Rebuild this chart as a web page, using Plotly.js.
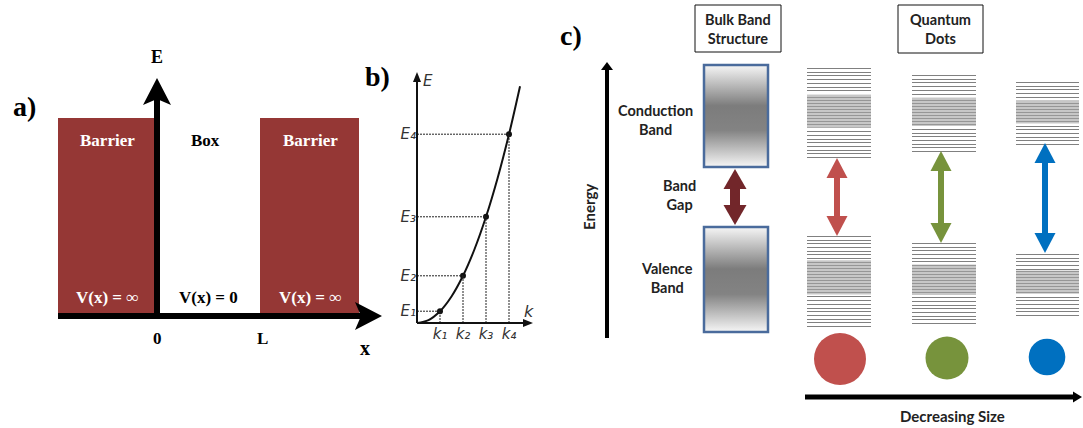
<!DOCTYPE html>
<html>
<head>
<meta charset="utf-8">
<script src="https://cdn.plot.ly/plotly-3.0.1.min.js"></script>
<style>
  html, body { margin: 0; padding: 0; background: #fff; }
  #chart { width: 1083px; height: 428px; }
</style>
</head>
<body>
<div id="chart"></div>
<script>
// ---- Panel a: particle in a one-dimensional box ----
const regionLabels = ['Barrier', 'Box', 'Barrier'];
const potentialLabels = ['V(x) = \u221E', 'V(x) = 0', 'V(x) = \u221E'];
const positionTicks = ['0', 'L'];

// ---- Panel b: free-particle dispersion E(k) and the allowed states ----
const curveK = [0, 0.5, 1, 1.5, 2, 2.5, 3, 3.5, 4, 4.48];
const curveE = [0, 0.25, 1, 2.25, 4, 6.25, 9, 12.25, 16, 20.07];
const stateK = [1, 2, 3, 4];
const stateE = [1, 4, 9, 16];
const stateIndex = ['\u2081', '\u2082', '\u2083', '\u2084'];

// ---- Panel c: bulk bands vs. quantum dot levels ----
const bulkLabels = ['Conduction<br>Band', 'Band<br>Gap', 'Valence<br>Band'];
const headerLabels = ['Bulk Band<br>Structure', 'Quantum<br>Dots'];
const axisLabels = ['Energy', 'Decreasing Size'];

const W = 1083, H = 428;
const SERIF = 'Liberation Serif, Times New Roman, serif';
const SANS = 'DejaVu Sans, Liberation Sans, Arial, sans-serif';
const HUMAN = 'Lato, Open Sans, sans-serif';

const shapes = [];
const annotations = [];
const traces = [];

function label(x, y, text, size, family, color, weight, style, extra) {
  annotations.push(Object.assign({
    x: x, y: y, xref: 'x', yref: 'y', text: text, showarrow: false,
    xanchor: 'center', yanchor: 'middle',
    font: { size: size, family: family, color: color, weight: weight || 'normal', style: style || 'normal' }
  }, extra || {}));
}

// Arrow drawn as a shaft line plus filled head path(s), in page-pixel data units.
function arrow(x0, y0, x1, y1, width, color, headLen, headWid, notch, both) {
  const len = Math.hypot(x1 - x0, y1 - y0);
  const ux = (x1 - x0) / len, uy = (y1 - y0) / len;
  const nx = -uy, ny = ux;
  function head(tx, ty, dx, dy) {
    const bx = tx - dx * headLen, by = ty - dy * headLen;
    const c1x = bx + nx * headWid / 2, c1y = by + ny * headWid / 2;
    const c2x = bx - nx * headWid / 2, c2y = by - ny * headWid / 2;
    const mx = bx + dx * notch, my = by + dy * notch;
    shapes.push({
      type: 'path', xref: 'x', yref: 'y', layer: 'above',
      path: 'M' + tx + ',' + ty + ' L' + c1x + ',' + c1y + ' L' + mx + ',' + my + ' L' + c2x + ',' + c2y + ' Z',
      fillcolor: color, line: { width: 0 }
    });
  }
  const inset = headLen - notch - 1;
  const sx = both ? x0 + ux * inset : x0, sy = both ? y0 + uy * inset : y0;
  const ex = x1 - ux * inset, ey = y1 - uy * inset;
  shapes.push({
    type: 'line', xref: 'x', yref: 'y', layer: 'above',
    x0: sx, y0: sy, x1: ex, y1: ey, line: { color: color, width: width }
  });
  head(x1, y1, ux, uy);
  if (both) head(x0, y0, -ux, -uy);
}

function rect(x0, y0, x1, y1, fill, lineColor, lineWidth, layer) {
  shapes.push({
    type: 'rect', xref: 'x', yref: 'y', x0: x0, y0: y0, x1: x1, y1: y1,
    fillcolor: fill || 'rgba(0,0,0,0)',
    line: { color: lineColor || 'rgba(0,0,0,0)', width: lineWidth || 0 },
    layer: layer || 'below'
  });
}

/* ================= Panel a ================= */
const barrierRed = '#953735';
rect(58, 118, 154, 316, barrierRed);
rect(260, 118, 359, 316, barrierRed);
arrow(58, 316, 382, 316, 6, '#000', 27, 28, 6, false);
arrow(157, 319, 157, 78, 6, '#000', 27, 28, 6, false);

label(24, 106, 'a)', 28, SERIF, '#000', 'bold');
const regionX = [107, 205, 310];
const potentialX = [107, 208, 310];
regionLabels.forEach(function (t, i) {
  label(regionX[i], 140, t, 17, SERIF, i === 1 ? '#000' : '#fff', 'bold');
  label(potentialX[i], 297, potentialLabels[i], 17, SERIF, i === 1 ? '#000' : '#fff', 'bold');
});
label(157, 338, positionTicks[0], 17, SERIF, '#000', 'bold');
label(262, 338, positionTicks[1], 17, SERIF, '#000', 'bold');
label(365, 348, 'x', 20, SERIF, '#000', 'bold');
label(157, 57, 'E', 18, SERIF, '#000', 'bold');

/* ================= Panel b ================= */
const kMax = 5, eMax = 21.27;
label(377, 76, 'b)', 28, SERIF, '#000', 'bold');
traces.push({
  x: curveK, y: curveE, xaxis: 'x2', yaxis: 'y2', mode: 'lines',
  line: { shape: 'spline', color: '#111', width: 2 }, cliponaxis: false, hoverinfo: 'skip'
});
traces.push({
  x: stateK, y: stateE, xaxis: 'x2', yaxis: 'y2', mode: 'markers',
  marker: { size: 6, color: '#111' }, cliponaxis: false, hoverinfo: 'skip'
});
stateK.forEach(function (k, i) {
  const dotted = { color: '#222', width: 1, dash: '2px,1px' };
  shapes.push({ type: 'line', xref: 'x2', yref: 'y2', x0: 0, x1: k, y0: stateE[i], y1: stateE[i], line: dotted });
  shapes.push({ type: 'line', xref: 'x2', yref: 'y2', x0: k, x1: k, y0: 0, y1: stateE[i], line: dotted });
});
// axis arrows of the E(k) plot (origin at page pixel 417,323)
arrow(417, 323, 417, 72, 2, '#111', 10, 8, 0, false);
arrow(417, 323, 533, 323, 2, '#111', 10, 8, 0, false);
label(428, 81, 'E', 15, SANS, '#333', 'normal', 'italic');
label(529, 311, 'k', 16, SANS, '#333', 'normal', 'italic');

/* ================= Panel c ================= */
label(571, 35, 'c)', 28, SERIF, '#000', 'bold');

// header boxes
rect(695, 5, 781, 52, null, '#111', 1);
rect(898, 5, 983, 53, null, '#111', 1);
label(738, 29, headerLabels[0], 14.5, HUMAN, '#222', 'bold');
label(940, 29, headerLabels[1], 14.5, HUMAN, '#222', 'bold');

// energy axis
arrow(607, 338, 607, 62, 4, '#000', 8, 12, 0, false);
label(589, 207, axisLabels[0], 15, HUMAN, '#222', 'bold', 'normal', { textangle: -90 });

// bulk bands with soft grey gradient
const bandGradient = [[0, '#f6f6f6'], [0.36, '#838383'], [0.6, '#7c7c7c'], [1, '#f6f6f6']];
[[65, 167], [227, 332]].forEach(function (b) {
  traces.push({
    x: [704, 768, 768, 704, 704], y: [b[0], b[0], b[1], b[1], b[0]],
    xaxis: 'x', yaxis: 'y', mode: 'none', fill: 'toself',
    fillgradient: { type: 'vertical', colorscale: bandGradient },
    hoverinfo: 'skip'
  });
  rect(704, b[0], 768, b[1], null, '#4a6b9c', 2.5, 'above');
});
arrow(735, 225, 735, 169, 10, '#72262a', 20, 23, 0, true);
label(655, 119.5, bulkLabels[0], 14.5, HUMAN, '#222', 'bold');
label(679, 194.5, bulkLabels[1], 14.5, HUMAN, '#222', 'bold');
label(667, 277.5, bulkLabels[2], 14.5, HUMAN, '#222', 'bold');

// quantum dot columns: discrete level stacks, gap arrow, dot
const dotColumns = [
  { x0: 807, x1: 871, cb: [68, 157], vb: [236, 326], ax: 837, arr: [158, 236], cx: 840, cy: 359, r: 26, color: '#c0504d' },
  { x0: 912, x1: 976, cb: [75, 151], vb: [243, 323], ax: 941, arr: [151, 243], cx: 947, cy: 358, r: 21.5, color: '#77933c' },
  { x0: 1016, x1: 1079, cb: [82, 144], vb: [254, 315], ax: 1045, arr: [143, 253], cx: 1047, cy: 357, r: 18.3, color: '#0070c0' }
];
const levelStep = 3.7;

function levelStack(x0, x1, top, bottom, denseFrom, denseTo) {
  const h = bottom - top;
  const d0 = top + denseFrom * h, d1 = top + denseTo * h;
  const xs = [], ys = [];
  for (let y = top; y < d0 - 1; y += levelStep) {
    const yy = Math.round(y) + 0.5;
    xs.push(x0, x1, null); ys.push(yy, yy, null);
  }
  for (let y = bottom; y > d1 + 1; y -= levelStep) {
    const yy = Math.round(y) + 0.5;
    xs.push(x0, x1, null); ys.push(yy, yy, null);
  }
  traces.push({
    x: xs, y: ys, xaxis: 'x', yaxis: 'y', mode: 'lines',
    line: { color: '#808080', width: 1 }, hoverinfo: 'skip', connectgaps: false
  });
  traces.push({
    x: [x0, x1, x1, x0, x0], y: [d0, d0, d1, d1, d0],
    xaxis: 'x', yaxis: 'y', mode: 'none', fill: 'toself', fillcolor: '#cccccc',
    fillpattern: { shape: '-', size: 3, solidity: 0.45, fgcolor: '#969696', bgcolor: '#d2d2d2' },
    hoverinfo: 'skip'
  });
}

dotColumns.forEach(function (c) {
  levelStack(c.x0, c.x1, c.cb[0], c.cb[1], 0.3, 0.67);
  levelStack(c.x0, c.x1, c.vb[0], c.vb[1], 0.27, 0.65);
  arrow(c.ax, c.arr[1], c.ax, c.arr[0], 6, c.color, 20, 21, 0, true);
  shapes.push({
    type: 'circle', xref: 'x', yref: 'y',
    x0: c.cx - c.r, x1: c.cx + c.r, y0: c.cy - c.r, y1: c.cy + c.r,
    fillcolor: c.color, line: { width: 0 }
  });
});

arrow(805, 397, 1082, 397, 5, '#000', 9, 11, 0, false);
label(952, 416, axisLabels[1], 15, HUMAN, '#222', 'bold');

/* ================= Layout ================= */
const hidden = { visible: false, showgrid: false, zeroline: false, fixedrange: true };
const tickFont = { family: SANS, size: 15, color: '#333', style: 'italic' };
const layout = {
  width: W, height: H,
  margin: { l: 0, r: 0, t: 0, b: 0, pad: 0 },
  paper_bgcolor: '#fff', plot_bgcolor: 'rgba(0,0,0,0)',
  showlegend: false,
  xaxis: Object.assign({ range: [0, W], domain: [0, 1] }, hidden),
  yaxis: Object.assign({ range: [H, 0], domain: [0, 1] }, hidden),
  xaxis2: {
    domain: [417 / W, 532 / W], range: [0, kMax], anchor: 'y2',
    showgrid: false, zeroline: false, showline: false, ticks: '', ticklen: 0,
    tickvals: stateK, ticktext: stateIndex.map(function (n) { return 'k' + n; }),
    tickfont: tickFont, fixedrange: true
  },
  yaxis2: {
    domain: [(H - 323) / H, (H - 72) / H], range: [0, eMax], anchor: 'x2',
    showgrid: false, zeroline: false, showline: false, ticks: '', ticklen: 0,
    tickvals: stateE, ticktext: stateIndex.map(function (n) { return 'E' + n; }),
    tickfont: tickFont, fixedrange: true
  },
  shapes: shapes,
  annotations: annotations
};

Plotly.newPlot('chart', traces, layout, { staticPlot: true, displayModeBar: false });
</script>
</body>
</html>
